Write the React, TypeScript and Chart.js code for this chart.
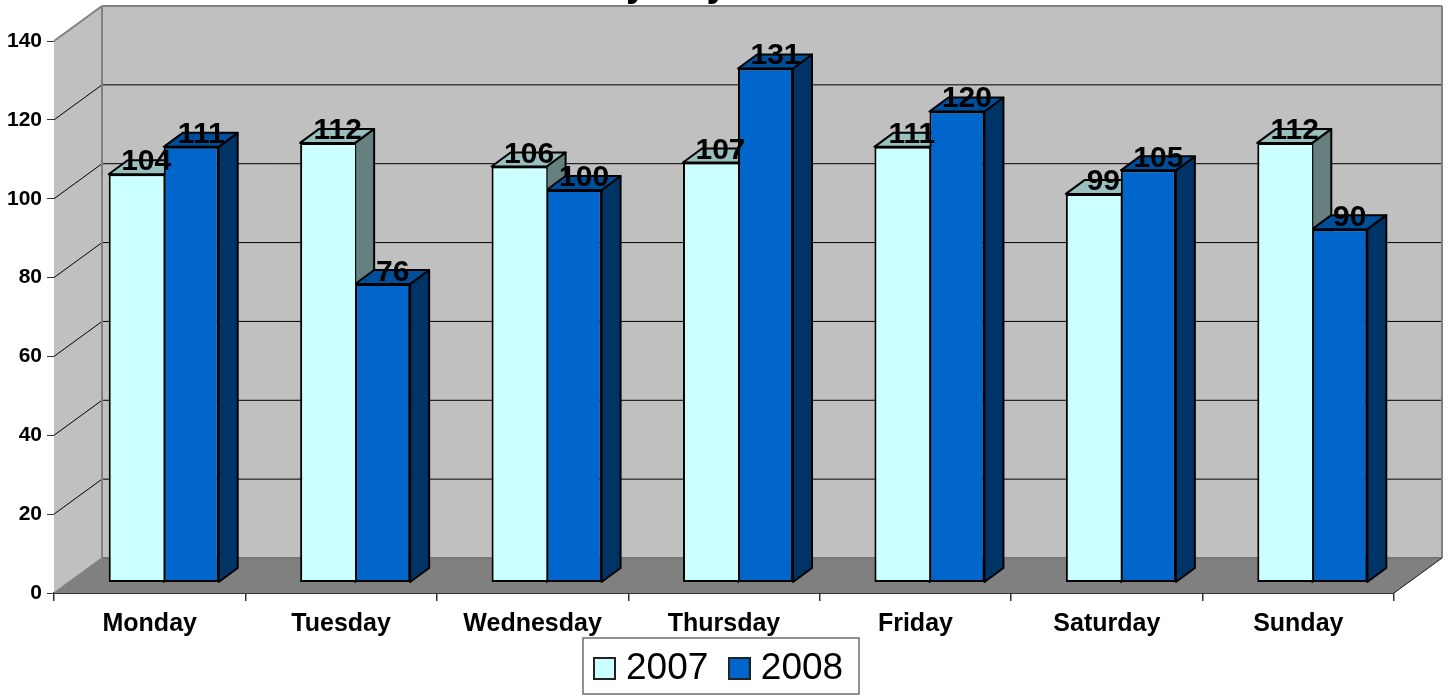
import React, { useEffect, useRef } from "react";
import { Chart, registerables } from "chart.js";

Chart.register(...registerables);

const categories = ["Monday", "Tuesday", "Wednesday", "Thursday", "Friday", "Saturday", "Sunday"];
const values2007 = [104, 112, 106, 107, 111, 99, 112];
const values2008 = [111, 76, 100, 131, 120, 105, 90];
const seriesNames = ["2007", "2008"];
const titleText = "by Day of Week";

const FONT = '"Liberation Sans", Arial, sans-serif';
const WALL_DX = 48;
const WALL_DY = -35;
const BAR_DX = 19;
const BAR_DY = -14;
const BAR_SHIFT = 14;
const LEGEND_PAD = 28;

const palette: Record<string, { top: string; side: string }> = {
  "#CCFFFF": { top: "#99BFBF", side: "#668080" },
  "#0066CC": { top: "#004D99", side: "#003366" },
};

function swatch(color: string) {
  const c = document.createElement("canvas");
  c.width = 23;
  c.height = 23;
  const g = c.getContext("2d")!;
  g.fillStyle = color;
  g.fillRect(0, 0, 23, 23);
  g.strokeStyle = "#222";
  g.lineWidth = 2;
  g.strokeRect(1, 1, 21, 21);
  return c;
}

function poly(ctx: CanvasRenderingContext2D, pts: number[][], fill: string | null, stroke?: string, w = 2) {
  ctx.beginPath();
  pts.forEach((p, i) => (i ? ctx.lineTo(p[0], p[1]) : ctx.moveTo(p[0], p[1])));
  ctx.closePath();
  if (fill) {
    ctx.fillStyle = fill;
    ctx.fill();
  }
  if (stroke) {
    ctx.strokeStyle = stroke;
    ctx.lineWidth = w;
    ctx.lineJoin = "round";
    ctx.stroke();
  }
}

function seg(ctx: CanvasRenderingContext2D, x1: number, y1: number, x2: number, y2: number, color: string, w: number) {
  ctx.beginPath();
  ctx.moveTo(x1, y1);
  ctx.lineTo(x2, y2);
  ctx.strokeStyle = color;
  ctx.lineWidth = w;
  ctx.stroke();
}

const box3d = {
  id: "box3d",
  beforeDraw(chart: any) {
    chart.legend.top = 650 - LEGEND_PAD;
    chart.legend.left = 601.5 - LEGEND_PAD;
    chart.titleBlock.left = 38;
  },
  beforeDatasetsDraw(chart: any) {
    const { ctx, chartArea: a, scales } = chart;
    const y = scales.y;
    const l = a.left, r = a.right, t = a.top, b = a.bottom;
    const bl = l + WALL_DX, br = r + WALL_DX, bt = t + WALL_DY, bb = b + WALL_DY;
    ctx.save();
    poly(ctx, [[bl, bt], [br, bt], [br, bb], [bl, bb]], "#C0C0C0");
    poly(ctx, [[l, t], [bl, bt], [bl, bb], [l, b]], "#C0C0C0");
    y.ticks.forEach((tk: any) => {
      if (tk.value === 0 || tk.value === 140) return;
      const py = y.getPixelForValue(tk.value);
      seg(ctx, l, py, bl, py + WALL_DY, "#000", 1);
      seg(ctx, bl, py + WALL_DY, br, py + WALL_DY, "#000", 1);
    });
    poly(ctx, [[l, b], [bl, bb], [br, bb], [r, b]], "#808080");
    seg(ctx, bl, bb, br, bb, "#767676", 2);
    seg(ctx, l, t, bl, bt, "#808080", 2);
    seg(ctx, bl, bt, br, bt, "#808080", 2);
    seg(ctx, bl, bt, bl, bb, "#808080", 2);
    seg(ctx, br, bt, br, bb, "#808080", 2);
    seg(ctx, l, b, bl, bb, "#808080", 1.5);
    seg(ctx, r, b, br, bb, "#111", 1);
    // sides and tops of the bars: first series first, second series over it
    ctx.translate(BAR_SHIFT, 0);
    chart.data.datasets.forEach((ds: any, i: number) => {
      const col = palette[ds.backgroundColor];
      chart.getDatasetMeta(i).data.forEach((el: any) => {
        const x0 = el.x - el.width / 2, x1 = el.x + el.width / 2;
        poly(ctx, [[x1, el.y], [x1 + BAR_DX, el.y + BAR_DY], [x1 + BAR_DX, el.base + BAR_DY], [x1, el.base]], col.side, "#000", 2);
        poly(ctx, [[x0, el.y], [x0 + BAR_DX, el.y + BAR_DY], [x1 + BAR_DX, el.y + BAR_DY], [x1, el.y]], col.top, "#000", 2);
      });
    });
    ctx.restore();
  },
  beforeDatasetDraw(chart: any) {
    chart.ctx.save();
    chart.ctx.translate(BAR_SHIFT, 0);
  },
  afterDatasetDraw(chart: any) {
    chart.ctx.restore();
  },
  afterDatasetsDraw(chart: any) {
    const { ctx, scales } = chart;
    ctx.save();
    ctx.font = `bold 30px ${FONT}`;
    ctx.textAlign = "center";
    ctx.textBaseline = "alphabetic";
    ctx.fillStyle = "#000";
    chart.getSortedVisibleDatasetMetas().forEach((meta: any) => {
      const ds = chart.data.datasets[meta.index];
      meta.data.forEach((el: any, i: number) => {
        ctx.fillText(String(ds.data[i]), el.x + BAR_SHIFT + 10, scales.y.getPixelForValue(ds.data[i]) - 12.5);
      });
    });
    ctx.restore();
  },
  afterDraw(chart: any) {
    const { ctx } = chart;
    ctx.save();
    ctx.strokeStyle = "#6e6e6e";
    ctx.lineWidth = 1.5;
    ctx.strokeRect(583, 638, 276, 56);
    ctx.restore();
  },
};

export default function App() {
  const ref = useRef<HTMLCanvasElement>(null);
  useEffect(() => {
    const chart = new Chart(ref.current!, {
      type: "bar",
      data: {
        labels: categories,
        datasets: [
          { label: seriesNames[0], data: values2007, backgroundColor: "#CCFFFF", borderColor: "#000", borderWidth: 2, borderSkipped: "right", yAxisID: "yBars", barPercentage: 1, categoryPercentage: 0.5747, clip: false },
          { label: seriesNames[1], data: values2008, backgroundColor: "#0066CC", borderColor: "#000", borderWidth: 2, borderSkipped: false, yAxisID: "yBars", barPercentage: 1, categoryPercentage: 0.5747, clip: false },
        ],
      } as any,
      plugins: [box3d],
      options: {
        responsive: false,
        animation: false,
        layout: { padding: 0 },
        plugins: {
          tooltip: { enabled: false },
          title: {
            display: true,
            text: titleText,
            color: "#000",
            font: { family: FONT, size: 38, weight: "bold" },
            padding: { top: -37, bottom: 32.4 },
          },
          legend: {
            display: true,
            position: "bottom",
            align: "start",
            maxHeight: 50,
            labels: {
              color: "#000",
              font: { family: FONT, size: 37 },
              usePointStyle: true,
              pointStyleWidth: 6,
              boxHeight: 23,
              padding: LEGEND_PAD,
              generateLabels: (c: any) =>
                c.data.datasets.map((d: any, i: number) => ({
                  text: d.label,
                  datasetIndex: i,
                  hidden: false,
                  pointStyle: swatch(d.backgroundColor),
                })),
            },
          },
        },
        scales: {
          x: {
            type: "category",
            grid: { display: true, drawOnChartArea: false, drawTicks: true, tickLength: 8, color: "#333", lineWidth: 1.5, offset: true },
            border: { display: true, color: "#333", width: 2 },
            ticks: { color: "#000", font: { family: FONT, size: 25, weight: "bold" }, padding: 8, maxRotation: 0, autoSkip: false },
            afterFit: (s: any) => { s.height = 53; },
          },
          y: {
            type: "linear",
            position: "left",
            min: 0,
            max: 140,
            grid: { display: true, drawOnChartArea: false, drawTicks: true, tickLength: 7, color: "#333", lineWidth: 1 },
            border: { display: true, color: "#333", width: 1 },
            ticks: { stepSize: 20, color: "#000", font: { family: FONT, size: 21, weight: "bold" }, padding: 5 },
            afterFit: (s: any) => { s.width = 54; },
          },
          yBars: {
            type: "linear",
            position: "right",
            min: -2.806,
            max: 138,
            grid: { display: false },
            border: { display: false },
            ticks: { display: false },
            afterFit: (s: any) => { s.width = 54; },
          },
        },
      },
    } as any);
    return () => chart.destroy();
  }, []);
  return (
    <div style={{ position: "fixed", left: 0, top: 0, width: 1448, height: 696, background: "#fff" }}>
      <canvas ref={ref} width={1448} height={696} style={{ display: "block" }} />
    </div>
  );
}
